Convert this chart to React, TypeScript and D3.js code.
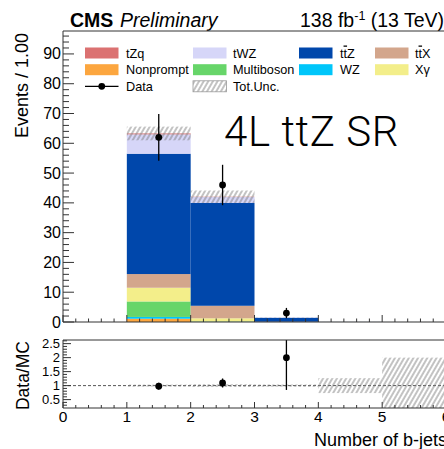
import React from "react";
import * as d3 from "d3";

// Bin edges for the number of b-jets
const binEdges = [0, 1, 2, 3, 4, 5, 6];

// Expected yields per bin (bins 0-1, 1-2, ..., 5-6), stacked bottom to top
const nonprompt = [0, 1.1, 0.1, 0, 0, 0];
const wz = [0, 0.6, 0.05, 0, 0, 0];
const multiboson = [0, 5.2, 0.1, 0, 0, 0];
const xgamma = [0, 4.6, 1.0, 0, 0, 0];
const ttx = [0, 4.6, 4.2, 0.1, 0.01, 0];
const ttz = [0, 40.4, 34.5, 1.3, 0.02, 0.005];
const twz = [0, 6.5, 2.0, 0.1, 0, 0];
const tzq = [0, 0.3, 0.1, 0, 0, 0];

// Total uncertainty on the expectation
const totUnc = [0, 2.3, 2.1, 0.06, 0.008, 0.005];

// Observed events
const data = [0, 62, 46, 3, 0, 0];

// Axis ticks
const mainYTicks = [0, 10, 20, 30, 40, 50, 60, 70, 80, 90];
const ratioYTicks = [0.5, 1, 1.5, 2, 2.5];
const ratioYLabels = ["0.5", "1", "1.5", "2", "2.5"];
const xTicks = [0, 1, 2, 3, 4, 5, 6];

const processes = [
  { key: "nonprompt", label: "Nonprompt", color: "#fca63f", values: nonprompt },
  { key: "wz", label: "WZ", color: "#00c6fa", values: wz },
  { key: "multiboson", label: "Multiboson", color: "#67d569", values: multiboson },
  { key: "xgamma", label: "Xγ", color: "#f3ee8a", values: xgamma },
  { key: "ttx", label: "ttX", color: "#d3a68c", values: ttx },
  { key: "ttz", label: "ttZ", color: "#0047ab", values: ttz },
  { key: "twz", label: "tWZ", color: "#d6d6f8", values: twz },
  { key: "tzq", label: "tZq", color: "#db7171", values: tzq },
];

// Legend arrangement, row-major
const legendRows = [
  ["tzq", "twz", "ttz", "ttx"],
  ["nonprompt", "multiboson", "wz", "xgamma"],
  ["data", "unc"],
];

const FONT = "'Liberation Sans', Arial, Helvetica, sans-serif";
const AX = "#333";

function ProcLabel({ k, x, y }: { k: string; x: number; y: number }) {
  const p = processes.find((q) => q.key === k)!;
  if (k === "ttz" || k === "ttx") {
    const last = k === "ttz" ? "Z" : "X";
    return (
      <text x={x} y={y} fontSize={12.7} fontFamily={FONT} fill="#000">
        t<tspan style={{ textDecoration: "overline" }}>t</tspan>
        {last}
      </text>
    );
  }
  return (
    <text x={x} y={y} fontSize={12.7} fontFamily={FONT} fill="#000">
      {p.label}
    </text>
  );
}

export default function App() {
  const x = d3.scaleLinear().domain([0, 6]).range([63, 446]);
  const y = d3.scaleLinear().domain([0, 97.7]).range([322, 31]);
  const yr = d3.scaleLinear().domain([0.2, 2.63]).range([408, 340]);

  const nBins = binEdges.length - 1;
  const rows = d3.range(nBins).map((i) => {
    const r: Record<string, number> = { i };
    processes.forEach((p) => (r[p.key] = p.values[i]));
    return r;
  });
  const stack = d3.stack<Record<string, number>>().keys(processes.map((p) => p.key));
  const series = stack(rows);
  const totals = rows.map((_, i) => d3.sum(processes, (p) => p.values[i]));

  const mainMinorY = d3.range(0, 97.7, 2).filter((v) => v % 10 !== 0);
  const minorX = d3.range(0, 6.001, 0.2).filter((v) => Math.abs(v - Math.round(v)) > 1e-6);
  const ratioMinorY = d3.range(0.3, 2.61, 0.1).filter((v) => Math.abs(v * 2 - Math.round(v * 2)) > 1e-6);

  const legendX = [85, 193, 299, 375];
  const legendY = [53, 69.7, 86.3];
  const boxW = 33.5;
  const boxH = 11;

  return (
    <svg
      width={444}
      height={449}
      style={{ position: "absolute", left: 0, top: 0, background: "#fff" }}
      fontFamily={FONT}
    >
      <defs>
        <pattern
          id="hatch"
          patternUnits="userSpaceOnUse"
          width={4}
          height={8}
          patternTransform="rotate(30)"
        >
          <line x1={1} y1={0} x2={1} y2={8} stroke="#777" strokeWidth={0.9} />
        </pattern>
        <clipPath id="mainClip">
          <rect x={63} y={31} width={383} height={291} />
        </clipPath>
        <clipPath id="ratioClip">
          <rect x={63} y={340} width={383} height={68} />
        </clipPath>
      </defs>

      {/* Header */}
      <text x={70} y={27} fontSize={19.5} fontWeight="bold">CMS</text>
      <text x={120} y={27} fontSize={19.5} fontStyle="italic">Preliminary</text>
      <text x={300} y={27} fontSize={19.5}>
        138 fb<tspan dy={-7.5} fontSize={12.5}>-1</tspan>
        <tspan dy={7.5}> (13 TeV)</tspan>
      </text>

      {/* Stacked expectation */}
      <g clipPath="url(#mainClip)">
        {series.map((s, si) =>
          s.map((d, i) =>
            d[1] - d[0] > 0 ? (
              <rect
                key={`${si}-${i}`}
                x={x(binEdges[i])}
                y={y(d[1])}
                width={x(binEdges[i + 1]) - x(binEdges[i])}
                height={y(d[0]) - y(d[1])}
                fill={processes[si].color}
              />
            ) : null
          )
        )}
        {/* Total uncertainty band */}
        {totals.map((t, i) =>
          t > 0 ? (
            <rect
              key={`u${i}`}
              x={x(binEdges[i])}
              y={y(t + totUnc[i])}
              width={x(binEdges[i + 1]) - x(binEdges[i])}
              height={y(t - totUnc[i]) - y(t + totUnc[i])}
              fill="url(#hatch)"
            />
          ) : null
        )}
        {/* Data */}
        {data.map((v, i) =>
          v > 0 ? (
            <g key={`d${i}`}>
              <line
                x1={x((binEdges[i] + binEdges[i + 1]) / 2)}
                x2={x((binEdges[i] + binEdges[i + 1]) / 2)}
                y1={y(v + Math.sqrt(v))}
                y2={y(v - Math.sqrt(v))}
                stroke="#000"
                strokeWidth={1.3}
              />
              <circle cx={x((binEdges[i] + binEdges[i + 1]) / 2)} cy={y(v)} r={3.4} fill="#000" />
            </g>
          ) : null
        )}
      </g>

      {/* Channel label */}
      <text
        x={224}
        y={146}
        fontSize={42}
        letterSpacing={0.6}
        fontFamily="Roboto, 'Liberation Sans', sans-serif"
        fontWeight={300}
      >
        4L ttZ SR
      </text>

      {/* Legend */}
      {legendRows.map((row, ri) =>
        row.map((k, ci) => {
          const bx = legendX[ci];
          const cy = legendY[ri];
          if (k === "data") {
            return (
              <g key={k}>
                <line x1={bx} x2={bx + boxW} y1={cy} y2={cy} stroke="#000" strokeWidth={1.3} />
                <circle cx={bx + boxW / 2} cy={cy} r={3.4} fill="#000" />
                <text x={126} y={cy + 4.5} fontSize={12.7}>Data</text>
              </g>
            );
          }
          if (k === "unc") {
            return (
              <g key={k}>
                <rect x={bx} y={cy - boxH / 2} width={boxW} height={boxH} fill="url(#hatch)" stroke="#999" strokeWidth={0.8} />
                <text x={233} y={cy + 4.5} fontSize={12.7}>Tot.Unc.</text>
              </g>
            );
          }
          const p = processes.find((q) => q.key === k)!;
          const tx = [126, 233, 340, 415][ci];
          return (
            <g key={k}>
              <rect x={bx} y={cy - boxH / 2} width={boxW} height={boxH} fill={p.color} />
              <ProcLabel k={k} x={tx} y={cy + 4.5} />
            </g>
          );
        })
      )}

      {/* Main panel axes */}
      <line x1={63} x2={446} y1={31} y2={31} stroke={AX} />
      <line x1={63} x2={446} y1={322} y2={322} stroke={AX} />
      <line x1={63} x2={63} y1={31} y2={322} stroke={AX} />
      {mainYTicks.map((t) => (
        <g key={`my${t}`}>
          <line x1={63} x2={74} y1={y(t)} y2={y(t)} stroke={AX} />
          <text x={61} y={y(t) + 5.5} fontSize={16} textAnchor="end">{t}</text>
        </g>
      ))}
      {mainMinorY.map((t) => (
        <line key={`mmy${t}`} x1={63} x2={69} y1={y(t)} y2={y(t)} stroke={AX} />
      ))}
      {xTicks.map((t) => (
        <line key={`mx${t}`} x1={x(t)} x2={x(t)} y1={322} y2={315} stroke={AX} />
      ))}
      {minorX.map((t) => (
        <line key={`mmx${t}`} x1={x(t)} x2={x(t)} y1={322} y2={318.5} stroke={AX} />
      ))}
      <text transform="translate(28,33) rotate(-90)" fontSize={18} textAnchor="end">Events / 1.00</text>

      {/* Ratio panel */}
      <g clipPath="url(#ratioClip)">
        <line x1={63} x2={446} y1={yr(1)} y2={yr(1)} stroke="#555" strokeDasharray="3,2" />
        {totals.map((t, i) =>
          t > 0 ? (
            <rect
              key={`ru${i}`}
              x={x(binEdges[i])}
              y={yr(1 + totUnc[i] / t)}
              width={x(binEdges[i + 1]) - x(binEdges[i])}
              height={yr(1 - totUnc[i] / t) - yr(1 + totUnc[i] / t)}
              fill="url(#hatch)"
            />
          ) : null
        )}
        {data.map((v, i) =>
          v > 0 && totals[i] > 0 ? (
            <g key={`rd${i}`}>
              <line
                x1={x((binEdges[i] + binEdges[i + 1]) / 2)}
                x2={x((binEdges[i] + binEdges[i + 1]) / 2)}
                y1={yr((v + Math.sqrt(v)) / totals[i])}
                y2={yr((v - Math.sqrt(v)) / totals[i])}
                stroke="#000"
                strokeWidth={1.3}
              />
              <circle cx={x((binEdges[i] + binEdges[i + 1]) / 2)} cy={yr(v / totals[i])} r={3.4} fill="#000" />
            </g>
          ) : null
        )}
      </g>
      <line x1={63} x2={446} y1={340} y2={340} stroke={AX} />
      <line x1={63} x2={446} y1={408} y2={408} stroke={AX} />
      <line x1={63} x2={63} y1={340} y2={408} stroke={AX} />
      {ratioYTicks.map((t, i) => (
        <g key={`ry${t}`}>
          <line x1={63} x2={71} y1={yr(t)} y2={yr(t)} stroke={AX} />
          <text x={60} y={yr(t) + 4.5} fontSize={13} textAnchor="end">{ratioYLabels[i]}</text>
        </g>
      ))}
      {ratioMinorY.map((t) => (
        <line key={`rmy${t}`} x1={63} x2={67} y1={yr(t)} y2={yr(t)} stroke={AX} />
      ))}
      {xTicks.map((t) => (
        <g key={`rx${t}`}>
          <line x1={x(t)} x2={x(t)} y1={408} y2={402} stroke={AX} />
          <text x={x(t)} y={422} fontSize={15.5} textAnchor="middle">{t}</text>
        </g>
      ))}
      {minorX.map((t) => (
        <line key={`rmx${t}`} x1={x(t)} x2={x(t)} y1={408} y2={405} stroke={AX} />
      ))}
      <text transform="translate(29,341) rotate(-90)" fontSize={17.5} textAnchor="end">Data/MC</text>
      <text x={447} y={446} fontSize={18} textAnchor="end">Number of b-jets</text>
    </svg>
  );
}
